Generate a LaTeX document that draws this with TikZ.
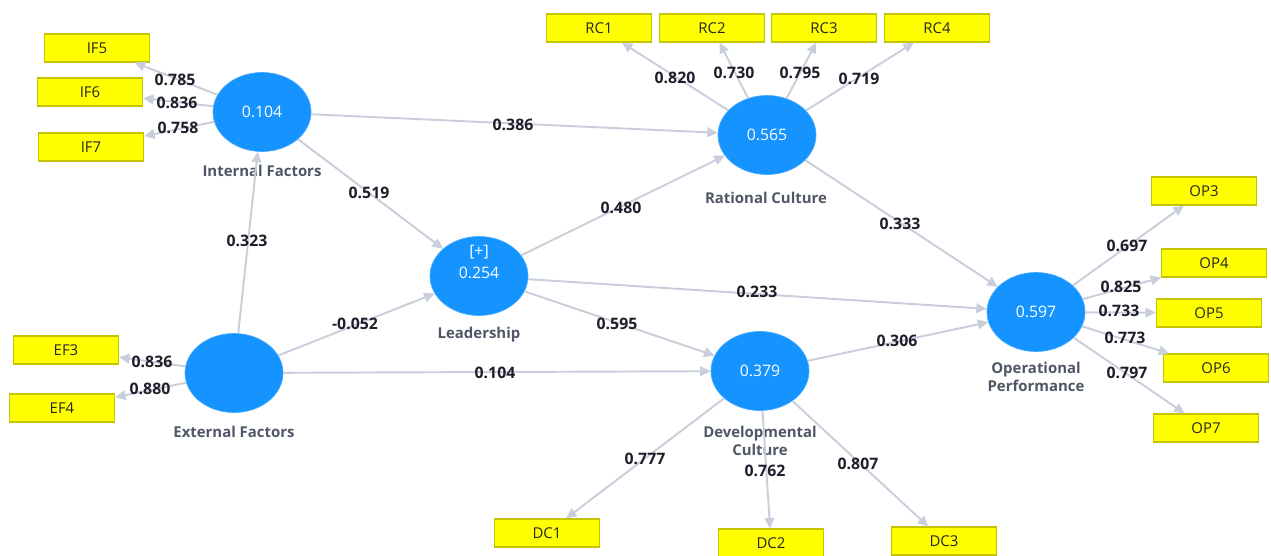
\documentclass[tikz,border=0pt]{standalone}
\usepackage{fontspec}
\setmainfont{Open Sans}
\usetikzlibrary{shapes.geometric,arrows.meta}
\definecolor{lvblue}{HTML}{1593FF}
\definecolor{boxyellow}{HTML}{FFFF00}
\definecolor{boxedge}{HTML}{C4C400}
\definecolor{arrowgray}{HTML}{C8CEDB}
\definecolor{numcol}{HTML}{1E1E2A}
\definecolor{namecol}{HTML}{4F5666}
\begin{document}
\begin{tikzpicture}[x=0.02cm,y=-0.02cm,
 latent/.style={ellipse, fill=lvblue, draw=lvblue!80!white, minimum width=1.96cm, minimum height=1.58cm, inner sep=0pt, text=white, font=\fontsize{9}{12}\selectfont},
 indic/.style={rectangle, fill=boxyellow, draw=boxedge, line width=0.6pt, minimum width=2.1cm, minimum height=0.56cm, inner sep=0pt, font=\fontsize{8.5}{10}\selectfont, text=black!85},
 conn/.style={draw=arrowgray, line width=1.1pt, -{Triangle[length=6pt,width=5.5pt]}},
 coef/.style={font=\bfseries\fontsize{9}{10}\selectfont, text=numcol, inner sep=0pt},
 lvname/.style={font=\bfseries\fontsize{8.5}{10.5}\selectfont, text=namecol, align=center, inner sep=0pt},
 lvtext/.style={text=white, font=\fontsize{9}{12}\selectfont, align=center, inner sep=0pt}
]
\useasboundingbox (0,0) rectangle (1271,555);

% latent variables
\node[latent] (IF) at (262,112) {0.104};
\node[latent] (EF) at (234,373) {};
\node[latent] (LD) at (479,276) {};
\node[lvtext] (LDtxt) at (479,262) {[+]\\0.254};
\node[latent] (RC) at (767,135) {0.565};
\node[latent] (DC) at (760,371) {0.379};
\node[latent] (OP) at (1036,312) {0.597};

% construct names
\node[lvname] (IFn) at (262,171) {Internal Factors};
\node[lvname] (EFn) at (234,432) {External Factors};
\node[lvname] (LDn) at (479,335) {Leadership};
\node[lvname] (RCn) at (766,198) {Rational Culture};
\node[lvname] (DCn) at (760,441) {Developmental\\Culture};
\node[lvname] (OPn) at (1036,377) {Operational\\Performance};

% indicators
\node[indic] (IF5) at (97,48) {IF5};
\node[indic] (IF6) at (90,92) {IF6};
\node[indic] (IF7) at (91,147) {IF7};
\node[indic] (EF3) at (66,350) {EF3};
\node[indic] (EF4) at (62,408) {EF4};
\node[indic] (RC1) at (599,28) {RC1};
\node[indic] (RC2) at (712,28) {RC2};
\node[indic] (RC3) at (824,28) {RC3};
\node[indic] (RC4) at (937,28) {RC4};
\node[indic] (OP3) at (1204,191) {OP3};
\node[indic] (OP4) at (1214,263) {OP4};
\node[indic] (OP5) at (1209,313) {OP5};
\node[indic] (OP6) at (1216,368) {OP6};
\node[indic] (OP7) at (1206,428) {OP7};
\node[indic] (DC1) at (547,533) {DC1};
\node[indic] (DC2) at (771,543) {DC2};
\node[indic] (DC3) at (944,541) {DC3};

% structural paths
\draw[conn] (IF) -- (RC);
\draw[conn] (IF) -- (LD);
\draw[conn] (EF) -- (IF);
\draw[conn] (EF) -- (LD);
\draw[conn] (EF) -- (DC);
\draw[conn] (LD) -- (RC);
\draw[conn] (LD) -- (OP);
\draw[conn] (LD) -- (DC);
\draw[conn] (RC) -- (OP);
\draw[conn] (DC) -- (OP);

% measurement paths
\foreach \t in {IF5,IF6,IF7} \draw[conn] (IF) -- (\t);
\foreach \t in {EF3,EF4} \draw[conn] (EF) -- (\t);
\foreach \t in {RC1,RC2,RC3,RC4} \draw[conn] (RC) -- (\t);
\foreach \t in {OP3,OP4,OP5,OP6,OP7} \draw[conn] (OP) -- (\t);
\foreach \t in {DC1,DC2,DC3} \draw[conn] (DC) -- (\t);

% structural coefficients
\node[coef] (c1) at (513,125) {0.386};
\node[coef] (c2) at (369,193) {0.519};
\node[coef] (c3) at (247,241) {0.323};
\node[coef] (c4) at (355,324) {-0.052};
\node[coef] (c5) at (495,373) {0.104};
\node[coef] (c6) at (621,208) {0.480};
\node[coef] (c7) at (757,292) {0.233};
\node[coef] (c8) at (617,324) {0.595};
\node[coef] (c9) at (900,224) {0.333};
\node[coef] (c10) at (897,341) {0.306};

% loadings
\node[coef] (l1) at (175,80) {0.785};
\node[coef] (l2) at (177,103) {0.836};
\node[coef] (l3) at (178,128) {0.758};
\node[coef] (l4) at (152,362) {0.836};
\node[coef] (l5) at (150,389) {0.880};
\node[coef] (l6) at (675,78) {0.820};
\node[coef] (l7) at (734,73) {0.730};
\node[coef] (l8) at (800,73) {0.795};
\node[coef] (l9) at (859,79) {0.719};
\node[coef] (l10) at (1127,246) {0.697};
\node[coef] (l11) at (1121,287) {0.825};
\node[coef] (l12) at (1119,311) {0.733};
\node[coef] (l13) at (1125,338) {0.773};
\node[coef] (l14) at (1127,373) {0.797};
\node[coef] (l15) at (645,459) {0.777};
\node[coef] (l16) at (765,471) {0.762};
\node[coef] (l17) at (858,464) {0.807};
\end{tikzpicture}
\end{document}
